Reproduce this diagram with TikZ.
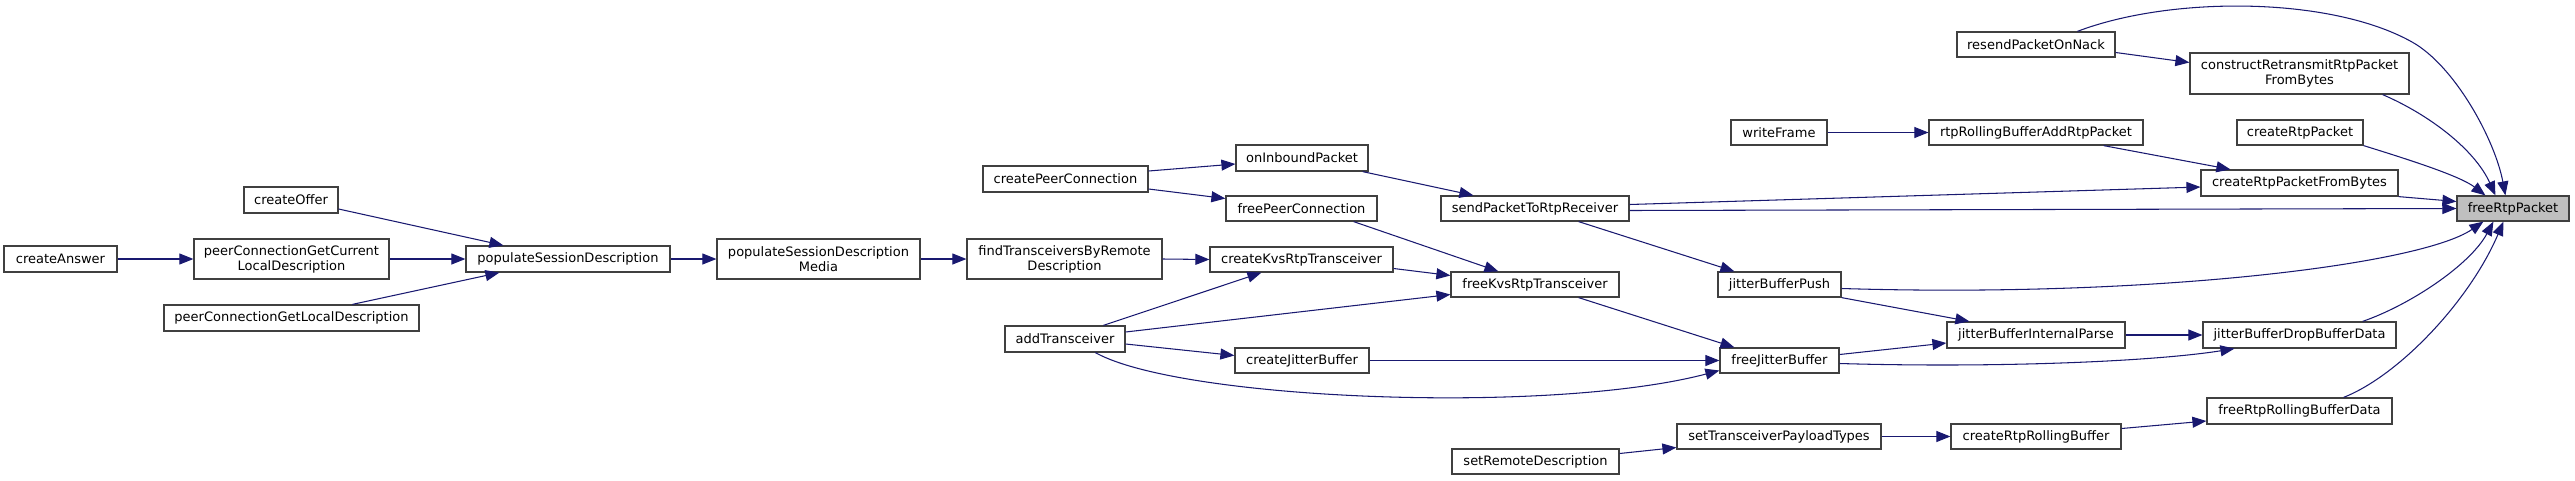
\documentclass[tikz,border=0pt]{standalone}
\usepackage{fontspec}
\setmainfont{DejaVu Sans}
\usepackage{tikz}
\usetikzlibrary{arrows.meta,calc}
\definecolor{cgEdge}{RGB}{25,25,112}
\definecolor{cgLine}{RGB}{64,64,64}
\definecolor{cgFocus}{RGB}{191,191,191}
\newcommand{\callnode}[7][]{%
  \node[fnbox,#1,minimum width={(#5-#3)*0.02cm},minimum height={(#6-#4)*0.02cm}]
    (#2) at ({(#3+#5)/2},{(#4+#6)/2}) {#7};
}
\tikzset{
  fnbox/.style={draw=cgLine,fill=white,line width=0.7pt,inner sep=0pt,align=center,
    font=\fontsize{7.4}{8.5}\selectfont},
  call/.style={draw=cgEdge,line width=0.6pt,-{Triangle[length=0.28cm,width=0.22cm]}}
}
\begin{document}
\begin{tikzpicture}[x=0.02cm,y=-0.02cm]
  \useasboundingbox (0,0) rectangle (2575,480);
  \callnode{createAnswer}{4}{246}{117}{272}{createAnswer}
  \callnode{pcGetCurrentLocal}{194}{239}{389}{279}{peerConnectionGetCurrent\\LocalDescription}
  \callnode{createOffer}{244}{187}{338}{213}{createOffer}
  \callnode{pcGetLocal}{164}{305}{419}{331}{peerConnectionGetLocalDescription}
  \callnode{populateSD}{466}{246}{670}{272}{populateSessionDescription}
  \callnode{populateSDMedia}{717}{239}{920}{279}{populateSessionDescription\\Media}
  \callnode{findTransceivers}{967}{239}{1162}{279}{findTransceiversByRemote\\Description}
  \callnode{createPeerConnection}{983}{166}{1148}{192}{createPeerConnection}
  \callnode{onInboundPacket}{1236}{145}{1368}{171}{onInboundPacket}
  \callnode{freePeerConnection}{1226}{196}{1377}{221}{freePeerConnection}
  \callnode{createKvsRtp}{1210}{247}{1393}{272}{createKvsRtpTransceiver}
  \callnode{addTransceiver}{1005}{326}{1125}{352}{addTransceiver}
  \callnode{createJitter}{1235}{348}{1369}{373}{createJitterBuffer}
  \callnode{sendToReceiver}{1441}{196}{1629}{221}{sendPacketToRtpReceiver}
  \callnode{freeKvsRtp}{1451}{272}{1619}{297}{freeKvsRtpTransceiver}
  \callnode{setRemoteDesc}{1452}{449}{1619}{474}{setRemoteDescription}
  \callnode{jitterPush}{1718}{272}{1841}{297}{jitterBufferPush}
  \callnode{freeJitter}{1720}{348}{1839}{373}{freeJitterBuffer}
  \callnode{setPayloadTypes}{1677}{424}{1881}{449}{setTransceiverPayloadTypes}
  \callnode{writeFrame}{1731}{120}{1827}{145}{writeFrame}
  \callnode{rollingAdd}{1929}{120}{2143}{145}{rtpRollingBufferAddRtpPacket}
  \callnode{resendOnNack}{1957}{32}{2115}{57}{resendPacketOnNack}
  \callnode{jitterParse}{1947}{322}{2125}{348}{jitterBufferInternalParse}
  \callnode{createRolling}{1951}{424}{2121}{449}{createRtpRollingBuffer}
  \callnode{constructRetransmit}{2190}{53}{2409}{94}{constructRetransmitRtpPacket\\FromBytes}
  \callnode{createRtpPacket}{2237}{120}{2363}{145}{createRtpPacket}
  \callnode{createFromBytes}{2201}{170}{2398}{196}{createRtpPacketFromBytes}
  \callnode[fill=cgFocus]{freeRtpPacket}{2457}{196}{2569}{221}{freeRtpPacket}
  \callnode{jitterDrop}{2203}{322}{2396}{348}{jitterBufferDropBufferData}
  \callnode{freeRollingData}{2207}{398}{2392}{424}{freeRtpRollingBufferData}
  \draw[call] (createAnswer.east) -- (pcGetCurrentLocal.west);
  \draw[call] (pcGetCurrentLocal.east) -- (populateSD.west);
  \draw[call] ($(createOffer.east)+(0,9)$) -- ($(populateSD.north west)+(38,0)$);
  \draw[call] ($(pcGetLocal.north west)+(189,0)$) -- ($(populateSD.south west)+(34,0)$);
  \draw[call] (populateSD.east) -- (populateSDMedia.west);
  \draw[call] (populateSDMedia.east) -- (findTransceivers.west);
  \draw[call] (findTransceivers.east) -- (createKvsRtp.west);
  \draw[call] ($(createPeerConnection.east)+(0,-8)$) -- ($(onInboundPacket.west)+(0,6)$);
  \draw[call] ($(createPeerConnection.east)+(0,10)$) -- ($(freePeerConnection.west)+(0,-10)$);
  \draw[call] ($(addTransceiver.north west)+(99,0)$) -- ($(createKvsRtp.south west)+(52,0)$);
  \draw[call] ($(addTransceiver.east)+(0,-7)$) -- ($(freeKvsRtp.west)+(0,10)$);
  \draw[call] ($(addTransceiver.east)+(0,5)$) -- ($(createJitter.west)+(0,-5)$);
  \draw[call] ($(addTransceiver.south west)+(91,0)$) .. controls (1180,400) and (1550,415) .. ($(freeJitter.west)+(0,10)$);
  \draw[call] ($(onInboundPacket.south east)+(-6,0)$) -- ($(sendToReceiver.north west)+(33,0)$);
  \draw[call] ($(freePeerConnection.south east)+(-24,0)$) -- ($(freeKvsRtp.north west)+(48,0)$);
  \draw[call] ($(createKvsRtp.east)+(0,9)$) -- ($(freeKvsRtp.west)+(0,-9)$);
  \draw[call] ($(freeKvsRtp.south east)+(-41,0)$) -- ($(freeJitter.north west)+(15,0)$);
  \draw[call] (createJitter.east) -- (freeJitter.west);
  \draw[call] ($(sendToReceiver.south east)+(-51,0)$) -- ($(jitterPush.north west)+(17,0)$);
  \draw[call] ($(sendToReceiver.east)+(0,-4)$) -- ($(createFromBytes.west)+(0,4)$);
  \draw[call] ($(sendToReceiver.east)+(0,2)$) -- (freeRtpPacket.west);
  \draw[call] (jitterPush.south east) -- ($(jitterParse.north west)+(23,0)$);
  \draw[call] ($(jitterPush.east)+(0,4)$) .. controls (2150,298) and (2420,265) .. ($(freeRtpPacket.south west)+(27,0)$);
  \draw[call] ($(freeJitter.east)+(0,-6)$) -- ($(jitterParse.west)+(0,8)$);
  \draw[call] ($(freeJitter.east)+(0,3)$) .. controls (1990,368) and (2150,362) .. ($(jitterDrop.south west)+(32,0)$);
  \draw[call] (jitterParse.east) -- (jitterDrop.west);
  \draw[call] ($(setRemoteDesc.east)+(0,-8)$) -- ($(setPayloadTypes.west)+(0,11)$);
  \draw[call] (setPayloadTypes.east) -- (createRolling.west);
  \draw[call] ($(createRolling.east)+(0,-8)$) -- ($(freeRollingData.west)+(0,10)$);
  \draw[call] (writeFrame.east) -- (rollingAdd.west);
  \draw[call] ($(rollingAdd.south east)+(-40,0)$) -- ($(createFromBytes.north west)+(30,0)$);
  \draw[call] ($(resendOnNack.east)+(0,8)$) -- ($(constructRetransmit.west)+(0,-11)$);
  \draw[call] ($(resendOnNack.north west)+(121,0)$) .. controls (2170,-4) and (2330,-4) .. (2412,42)
    .. controls (2455,66) and (2495,140) .. ($(freeRtpPacket.north west)+(49,0)$);
  \draw[call] ($(constructRetransmit.south east)+(-27,0)$) .. controls (2430,115) and (2475,150) .. ($(freeRtpPacket.north west)+(39,0)$);
  \draw[call] (createRtpPacket.south east) .. controls (2410,160) and (2460,176) .. ($(freeRtpPacket.north west)+(29,0)$);
  \draw[call] (createFromBytes.south east) -- ($(freeRtpPacket.west)+(0,-7)$);
  \draw[call] ($(jitterDrop.north east)+(-34,0)$) .. controls (2410,305) and (2470,265) .. ($(freeRtpPacket.south west)+(37,0)$);
  \draw[call] ($(freeRollingData.north east)+(-49,0)$) .. controls (2400,375) and (2470,300) .. ($(freeRtpPacket.south west)+(47,0)$);
\end{tikzpicture}
\end{document}
